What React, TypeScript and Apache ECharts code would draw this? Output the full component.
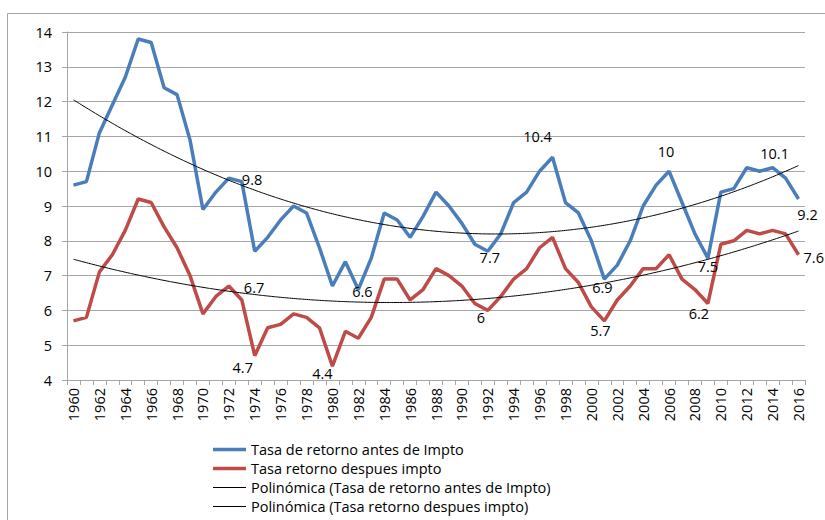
import React, { useEffect, useRef } from "react";
import * as echarts from "echarts";

const years: string[] = [];
for (let y = 1960; y <= 2016; y++) years.push(String(y));

const antesImpto = [
  9.6, 9.7, 11.1, 11.9, 12.7, 13.8, 13.7, 12.4, 12.2, 10.9,
  8.9, 9.4, 9.8, 9.7, 7.7, 8.1, 8.6, 9.0, 8.8, 7.8,
  6.7, 7.4, 6.6, 7.5, 8.8, 8.6, 8.1, 8.7, 9.4, 9.0,
  8.5, 7.9, 7.7, 8.2, 9.1, 9.4, 10.0, 10.4, 9.1, 8.8,
  8.0, 6.9, 7.3, 8.0, 9.0, 9.6, 10.0, 9.1, 8.2, 7.5,
  9.4, 9.5, 10.1, 10.0, 10.1, 9.8, 9.2,
];

const despuesImpto = [
  5.7, 5.8, 7.1, 7.6, 8.3, 9.2, 9.1, 8.4, 7.8, 7.0,
  5.9, 6.4, 6.7, 6.3, 4.7, 5.5, 5.6, 5.9, 5.8, 5.5,
  4.4, 5.4, 5.2, 5.8, 6.9, 6.9, 6.3, 6.6, 7.2, 7.0,
  6.7, 6.2, 6.0, 6.4, 6.9, 7.2, 7.8, 8.1, 7.2, 6.8,
  6.1, 5.7, 6.3, 6.7, 7.2, 7.2, 7.6, 6.9, 6.6, 6.2,
  7.9, 8.0, 8.3, 8.2, 8.3, 8.2, 7.6,
];

const seriesNames = [
  "Tasa de retorno antes de Impto",
  "Tasa retorno despues impto",
  "Polinómica (Tasa de retorno antes de Impto)",
  "Polinómica (Tasa retorno despues impto)",
];

// years whose values carry a data label
const antesLabelYears = ["1972", "1982", "1992", "1997", "2001", "2006", "2009", "2014", "2016"];
const despuesLabelYears = ["1972", "1974", "1980", "1992", "2001", "2009", "2016"];

// label placement (style only)
const antesLabelPos: Record<string, [string, number, number]> = {
  "1972": ["right", 8, 1],
  "1982": ["bottom", 4, -11],
  "1992": ["bottom", 2, -6],
  "1997": ["top", -15, -8],
  "2001": ["bottom", -2, -4],
  "2006": ["top", -3, -7],
  "2009": ["bottom", 0, -4],
  "2014": ["top", 2, -2],
  "2016": ["bottom", 9, 3],
};
const despuesLabelPos: Record<string, [string, number, number]> = {
  "1972": ["right", 10, 1],
  "1974": ["bottom", -12, -1],
  "1980": ["bottom", -10, -5],
  "1992": ["bottom", -7, -5],
  "2001": ["bottom", -4, -3],
  "2009": ["bottom", -9, -2],
  "2016": ["right", 0, 3],
};

function quadFit(vals: number[]): number[] {
  // least squares polynomial of order 2 (Excel "Polinómica" trendline)
  const n = vals.length;
  let s0 = 0, s1 = 0, s2 = 0, s3 = 0, s4 = 0, t0 = 0, t1 = 0, t2 = 0;
  for (let i = 0; i < n; i++) {
    const x = i + 1;
    const y = vals[i];
    s0 += 1; s1 += x; s2 += x * x; s3 += x * x * x; s4 += x * x * x * x;
    t0 += y; t1 += x * y; t2 += x * x * y;
  }
  const M = [
    [s0, s1, s2, t0],
    [s1, s2, s3, t1],
    [s2, s3, s4, t2],
  ];
  for (let c = 0; c < 3; c++) {
    let p = c;
    for (let r = c + 1; r < 3; r++) if (Math.abs(M[r][c]) > Math.abs(M[p][c])) p = r;
    [M[c], M[p]] = [M[p], M[c]];
    for (let r = 0; r < 3; r++) {
      if (r === c) continue;
      const f = M[r][c] / M[c][c];
      for (let k = c; k < 4; k++) M[r][k] -= f * M[c][k];
    }
  }
  const a0 = M[0][3] / M[0][0];
  const a1 = M[1][3] / M[1][1];
  const a2 = M[2][3] / M[2][2];
  return vals.map((_, i) => {
    const x = i + 1;
    return a0 + a1 * x + a2 * x * x;
  });
}

const FONT = "'Open Sans', 'Liberation Sans', Arial, sans-serif";
const FS = 14.5;

function withLabels(vals: number[], labelYears: string[], pos: Record<string, [string, number, number]>) {
  return vals.map((v, i) => {
    const yr = years[i];
    if (labelYears.indexOf(yr) < 0) return v;
    const p = pos[yr];
    return {
      value: v,
      label: {
        show: true,
        position: p[0],
        offset: [p[1], p[2]],
        distance: 5,
        color: "#000",
        fontSize: FS,
        fontFamily: FONT,
      },
    };
  });
}

const THICK = "path://M0,0H33V3.5H0Z";
const THIN = "path://M0,0H33V1.1H0Z";

export default function App() {
  const ref = useRef<HTMLDivElement>(null);
  useEffect(() => {
    document.body.style.margin = "0";
    if (!ref.current) return;
    const chart = echarts.init(ref.current, undefined, { renderer: "svg" });
    const gridColor = "#a6a6a6";
    const lineBase = {
      type: "line",
      symbol: "circle",
      symbolSize: 0,
      showSymbol: true,
      showAllSymbol: true,
      label: { show: false },
      emphasis: { disabled: true },
    };
    chart.setOption({
      animation: false,
      textStyle: { fontFamily: FONT },
      graphic: [
        {
          type: "rect",
          silent: true,
          z: -1,
          shape: { x: 7.5, y: 13.5, width: 860, height: 560 },
          style: { fill: "none", stroke: "#a6a6a6", lineWidth: 1 },
        },
      ],
      grid: { left: 67, right: 20, top: 32, bottom: 140 },
      legend: {
        orient: "vertical",
        left: 208,
        top: 437,
        height: 140,
        itemWidth: 33,
        itemHeight: 14,
        itemGap: 4,
        symbolKeepAspect: true,
        textStyle: { fontSize: FS, lineHeight: 14, color: "#000", fontFamily: FONT },
        data: [
          { name: seriesNames[0], icon: THICK },
          { name: seriesNames[1], icon: THICK },
          { name: seriesNames[2], icon: THIN },
          { name: seriesNames[3], icon: THIN },
        ],
      },
      xAxis: {
        type: "category",
        data: years,
        boundaryGap: true,
        axisLine: { lineStyle: { color: gridColor, width: 1 } },
        axisTick: { show: true, interval: 0, length: 5, lineStyle: { color: gridColor } },
        axisLabel: {
          interval: 1,
          rotate: 90,
          fontSize: FS,
          color: "#000",
          fontFamily: FONT,
          margin: 8,
        },
        splitLine: { show: false },
      },
      yAxis: {
        type: "value",
        min: 4,
        max: 14,
        interval: 1,
        axisLine: { show: true, lineStyle: { color: gridColor, width: 1 } },
        axisTick: { show: true, length: 5, lineStyle: { color: gridColor } },
        axisLabel: { fontSize: FS, color: "#000", fontFamily: FONT, margin: 15 },
        splitLine: { show: true, lineStyle: { color: gridColor, width: 1 } },
      },
      series: [
        {
          ...lineBase,
          name: seriesNames[0],
          data: withLabels(antesImpto, antesLabelYears, antesLabelPos),
          lineStyle: { color: "#4a7ebb", width: 3.5 },
          itemStyle: { color: "#4a7ebb" },
          z: 3,
        },
        {
          ...lineBase,
          name: seriesNames[1],
          data: withLabels(despuesImpto, despuesLabelYears, despuesLabelPos),
          lineStyle: { color: "#be4b48", width: 3.5 },
          itemStyle: { color: "#be4b48" },
          z: 3,
        },
        {
          ...lineBase,
          name: seriesNames[2],
          data: quadFit(antesImpto),
          smooth: true,
          lineStyle: { color: "#000", width: 1 },
          itemStyle: { color: "#000" },
          z: 4,
        },
        {
          ...lineBase,
          name: seriesNames[3],
          data: quadFit(despuesImpto),
          smooth: true,
          lineStyle: { color: "#000", width: 1 },
          itemStyle: { color: "#000" },
          z: 4,
        },
      ],
    });
    return () => chart.dispose();
  }, []);
  return <div ref={ref} style={{ width: 825, height: 520 }} />;
}
